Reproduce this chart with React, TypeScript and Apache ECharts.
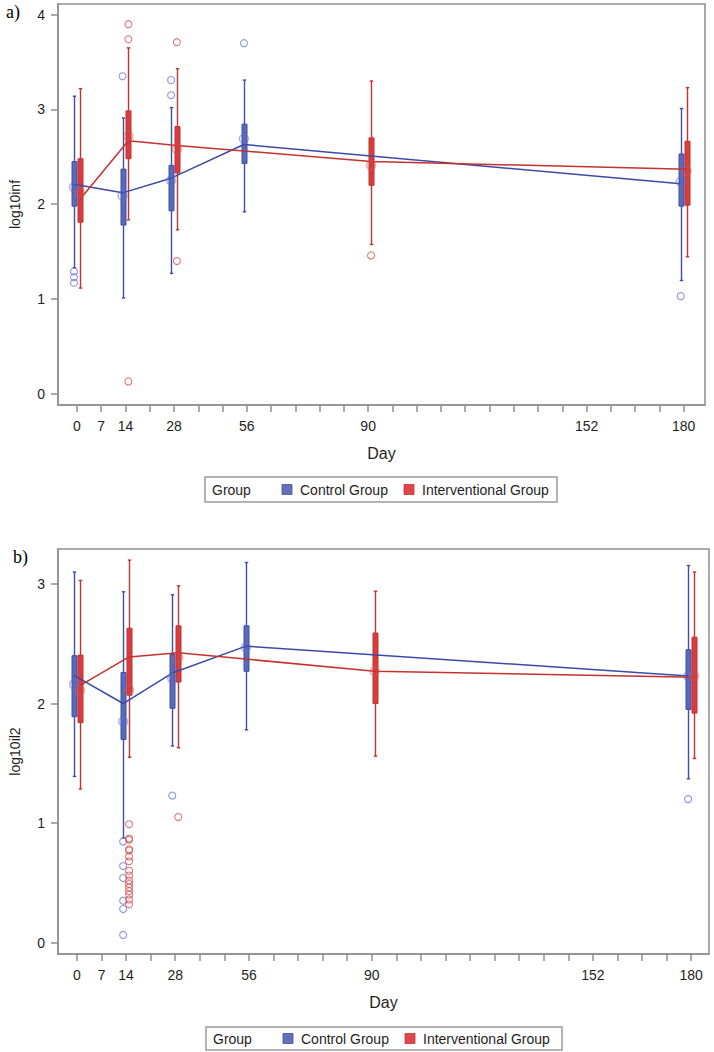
import React, { useEffect, useRef } from "react";
import * as echarts from "echarts";

// x axis: 26 evenly spaced tick slots, labelled with study days
const tickLabels = ["0", "7", "14", "", "28", "", "", "56", "", "", "", "", "90", "", "", "", "", "", "", "", "", "152", "", "", "", "180"];
const yTicksA = [0, 1, 2, 3, 4];
const yTicksB = [0, 1, 2, 3];

const controlDays = [0, 14, 28, 56, 180];
const interventionDays = [0, 14, 28, 90, 180];

// Panel a) log10inf
const infCtrlLow = [1.33, 1.01, 1.27, 1.92, 1.195];
const infCtrlQ1 = [1.98, 1.78, 1.93, 2.43, 1.98];
const infCtrlMedian = [2.21, 2.12, 2.275, 2.63, 2.215];
const infCtrlQ3 = [2.45, 2.37, 2.41, 2.845, 2.53];
const infCtrlHigh = [3.14, 2.91, 3.02, 3.31, 3.01];
const infCtrlMean = [2.18, 2.09, 2.25, 2.69, 2.24];
const infCtrlOutliers = [[0, 1.29], [0, 1.23], [0, 1.17], [14, 3.35], [28, 3.31], [28, 3.15], [56, 3.7], [180, 1.03]];

const infIntLow = [1.115, 1.835, 1.73, 1.575, 1.445];
const infIntQ1 = [1.81, 2.48, 2.33, 2.2, 1.99];
const infIntMedian = [2.05, 2.67, 2.62, 2.45, 2.37];
const infIntQ3 = [2.48, 2.985, 2.82, 2.7, 2.665];
const infIntHigh = [3.22, 3.65, 3.43, 3.3, 3.23];
const infIntMean = [2.12, 2.72, 2.58, 2.41, 2.35];
const infIntOutliers = [[14, 3.9], [14, 3.74], [14, 0.13], [28, 3.71], [28, 1.4], [90, 1.46]];

// Panel b) log10il2
const il2CtrlLow = [1.39, 0.875, 1.645, 1.78, 1.37];
const il2CtrlQ1 = [1.89, 1.7, 1.96, 2.27, 1.95];
const il2CtrlMedian = [2.235, 2.0, 2.255, 2.48, 2.23];
const il2CtrlQ3 = [2.4, 2.26, 2.41, 2.65, 2.45];
const il2CtrlHigh = [3.1, 2.935, 2.91, 3.18, 3.155];
const il2CtrlMean = [2.16, 1.85, 2.21, 2.47, 2.23];
const il2CtrlOutliers = [[14, 0.845], [14, 0.64], [14, 0.54], [14, 0.35], [14, 0.28], [14, 0.064], [28, 1.23], [180, 1.2]];

const il2IntLow = [1.285, 1.55, 1.63, 1.56, 1.54];
const il2IntQ1 = [1.84, 2.07, 2.18, 2.0, 1.92];
const il2IntMedian = [2.15, 2.39, 2.425, 2.27, 2.22];
const il2IntQ3 = [2.405, 2.63, 2.65, 2.59, 2.555];
const il2IntHigh = [3.03, 3.2, 2.985, 2.94, 3.1];
const il2IntMean = [2.11, 2.115, 2.385, 2.27, 2.23];
const il2IntOutliers = [
  [14, 0.99], [14, 0.87], [14, 0.86], [14, 0.78], [14, 0.77], [14, 0.72], [14, 0.68], [14, 0.6],
  [14, 0.56], [14, 0.52], [14, 0.49], [14, 0.46], [14, 0.43], [14, 0.4], [14, 0.36], [14, 0.32], [28, 1.05],
];

const FONT = "'Liberation Sans', Arial, sans-serif";
const AXIS = "#8f8f8f";
const TEXT = "#1e1e1e";
const CTRL = { line: "#3a4aa8", fill: "#5a6abb", stroke: "#3e4ea6", mean: "rgba(96,110,196,0.65)", out: "#6f7cd0", legend: "#6670b8" };
const INT = { line: "#c8302e", fill: "#d83c3c", stroke: "#c23230", mean: "rgba(214,84,84,0.65)", out: "#d45555", legend: "#e0474d" };

const GROUP_OFFSET = { ctrl: -0.12, int: 0.12 };

const dayPos = (day: number) => tickLabels.indexOf(String(day));

function boxRender(col: any) {
  return (params: any, api: any) => {
    const x = api.value(0);
    const low = api.coord([x, api.value(1)]);
    const q1 = api.coord([x, api.value(2)]);
    const q3 = api.coord([x, api.value(3)]);
    const high = api.coord([x, api.value(4)]);
    const cx = Math.round(low[0]) + 0.5;
    const bw = 5;
    const cap = 3.5;
    return {
      type: "group",
      children: [
        { type: "line", shape: { x1: cx, y1: high[1], x2: cx, y2: low[1] }, style: { stroke: col.stroke, lineWidth: 1.4 } },
        { type: "line", shape: { x1: cx - cap / 2, y1: high[1], x2: cx + cap / 2, y2: high[1] }, style: { stroke: col.stroke, lineWidth: 1.4 } },
        { type: "line", shape: { x1: cx - cap / 2, y1: low[1], x2: cx + cap / 2, y2: low[1] }, style: { stroke: col.stroke, lineWidth: 1.4 } },
        { type: "rect", shape: { x: cx - bw / 2, y: q3[1], width: bw, height: q1[1] - q3[1] }, style: { fill: col.fill, stroke: col.stroke, lineWidth: 1 } },
      ],
    };
  };
}

function groupSeries(panel: number, days: number[], low: number[], q1: number[], med: number[], q3: number[], high: number[], mean: number[], outliers: number[][], col: any, off: number) {
  const pos = days.map((d) => dayPos(d) + off);
  return [
    {
      type: "custom",
      xAxisIndex: panel,
      yAxisIndex: panel,
      renderItem: boxRender(col),
      encode: { x: 0, y: [1, 2, 3, 4] },
      data: pos.map((p, i) => [p, low[i], q1[i], q3[i], high[i]]),
      z: 2,
      silent: true,
    },
    {
      type: "line",
      xAxisIndex: panel,
      yAxisIndex: panel,
      data: pos.map((p, i) => [p, med[i]]),
      symbol: "none",
      lineStyle: { color: col.line, width: 1.5 },
      z: 3,
      silent: true,
    },
    {
      type: "scatter",
      xAxisIndex: panel,
      yAxisIndex: panel,
      data: pos.map((p, i) => [p, mean[i]]),
      symbol: "circle",
      symbolSize: 9,
      itemStyle: { color: "rgba(0,0,0,0)", borderColor: col.mean, borderWidth: 1.5 },
      z: 4,
      silent: true,
    },
    {
      type: "scatter",
      xAxisIndex: panel,
      yAxisIndex: panel,
      data: outliers.map((o) => [dayPos(o[0]) + off, o[1]]),
      symbol: "circle",
      symbolSize: 7,
      itemStyle: { color: "rgba(0,0,0,0)", borderColor: col.out, borderWidth: 1.1 },
      z: 4,
      silent: true,
    },
  ];
}

const tickIdx = tickLabels.map((_, i) => i);
const labelIdx = tickLabels.map((l, i) => (l ? i : -1)).filter((i) => i >= 0);

function xAxisCfg(grid: number, min: number, max: number) {
  return {
    type: "value",
    gridIndex: grid,
    min,
    max,
    axisLine: { show: true, onZero: false, lineStyle: { color: AXIS, width: 1.5 } },
    axisTick: { show: true, length: 7, customValues: tickIdx, lineStyle: { color: AXIS, width: 1.5 } },
    axisLabel: {
      customValues: labelIdx,
      formatter: (v: number) => tickLabels[Math.round(v)] || "",
      color: TEXT,
      fontFamily: FONT,
      fontSize: 14,
      margin: 14,
    },
    splitLine: { show: false },
    name: "Day",
    nameLocation: "middle",
    nameGap: 40,
    nameTextStyle: { color: TEXT, fontFamily: FONT, fontSize: 16 },
  };
}

function yAxisCfg(grid: number, min: number, max: number, ticks: number[], name: string) {
  return {
    type: "value",
    gridIndex: grid,
    min,
    max,
    axisLine: { show: true, onZero: false, lineStyle: { color: AXIS, width: 1.5 } },
    axisTick: { show: true, length: 7, customValues: ticks, lineStyle: { color: AXIS, width: 1.5 } },
    axisLabel: { customValues: ticks, color: TEXT, fontFamily: FONT, fontSize: 14, margin: 13 },
    splitLine: { show: false },
    name,
    nameLocation: "middle",
    nameGap: 36,
    nameTextStyle: { color: TEXT, fontFamily: FONT, fontSize: 14 },
  };
}

function legendGraphic(x: number, y: number, w: number, h: number) {
  const cy = y + h / 2;
  const txt = (tx: number, t: string) => ({
    type: "text",
    x: tx,
    y: cy,
    style: { text: t, fill: TEXT, font: `14px ${FONT}`, verticalAlign: "middle", textAlign: "left" },
  });
  return [
    { type: "rect", shape: { x, y, width: w, height: h }, style: { fill: "#fff", stroke: "#9a9a9a", lineWidth: 1.5 } },
    txt(x + 7, "Group"),
    { type: "rect", shape: { x: x + 77, y: cy - 5, width: 10, height: 10 }, style: { fill: CTRL.legend, stroke: CTRL.stroke, lineWidth: 0.8 } },
    txt(x + 95, "Control Group"),
    { type: "rect", shape: { x: x + 199, y: cy - 5, width: 10, height: 10 }, style: { fill: INT.legend, stroke: INT.stroke, lineWidth: 0.8 } },
    txt(x + 217, "Interventional Group"),
  ];
}

export default function App() {
  const ref = useRef<HTMLDivElement>(null);
  useEffect(() => {
    if (!ref.current) return;
    const chart = echarts.init(ref.current, null, { renderer: "svg" });
    const option: any = {
      animation: false,
      backgroundColor: "#ffffff",
      grid: [
        { left: 57, top: 4, width: 648, height: 401, show: true, borderColor: AXIS, borderWidth: 1.5, containLabel: false },
        { left: 57, top: 549, width: 652, height: 405, show: true, borderColor: AXIS, borderWidth: 1.5, containLabel: false },
      ],
      xAxis: [xAxisCfg(0, -0.78, 25.88), xAxisCfg(1, -0.773, 25.73)],
      yAxis: [yAxisCfg(0, -0.119, 4.113, yTicksA, "log10inf"), yAxisCfg(1, -0.096, 3.293, yTicksB, "log10il2")],
      series: [
        ...groupSeries(0, controlDays, infCtrlLow, infCtrlQ1, infCtrlMedian, infCtrlQ3, infCtrlHigh, infCtrlMean, infCtrlOutliers, CTRL, GROUP_OFFSET.ctrl),
        ...groupSeries(0, interventionDays, infIntLow, infIntQ1, infIntMedian, infIntQ3, infIntHigh, infIntMean, infIntOutliers, INT, GROUP_OFFSET.int),
        ...groupSeries(1, controlDays, il2CtrlLow, il2CtrlQ1, il2CtrlMedian, il2CtrlQ3, il2CtrlHigh, il2CtrlMean, il2CtrlOutliers, CTRL, GROUP_OFFSET.ctrl),
        ...groupSeries(1, interventionDays, il2IntLow, il2IntQ1, il2IntMedian, il2IntQ3, il2IntHigh, il2IntMean, il2IntOutliers, INT, GROUP_OFFSET.int),
      ],
      graphic: [
        { type: "text", x: 6, y: 12, style: { text: "a)", fill: "#000", font: "18px 'Liberation Serif', 'Times New Roman', serif", verticalAlign: "middle" } },
        { type: "text", x: 13, y: 557, style: { text: "b)", fill: "#000", font: "18px 'Liberation Serif', 'Times New Roman', serif", verticalAlign: "middle" } },
        ...legendGraphic(205, 477, 352, 25),
        ...legendGraphic(206, 1027, 356, 23),
      ],
    };
    chart.setOption(option);
    return () => chart.dispose();
  }, []);
  return <div ref={ref} style={{ position: "absolute", left: 0, top: 0, width: 714, height: 1052 }} />;
}
